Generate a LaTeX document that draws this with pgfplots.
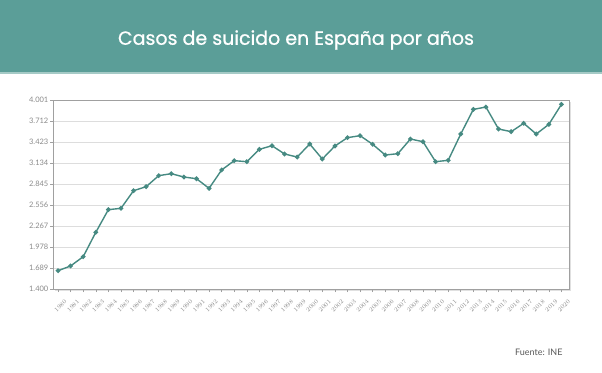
\documentclass[border=0pt]{standalone}
\usepackage{pgfplots}
\pgfplotsset{compat=1.18}
\usepackage{fontspec}
\setmainfont{Lato}
\newfontfamily\titlefont{Poppins}[FakeBold=0.8]
\definecolor{header}{HTML}{5B9E98}
\definecolor{linec}{HTML}{468A82}
\definecolor{tickc}{HTML}{8A8A8A}
\definecolor{gridc}{HTML}{DDDDDD}
\definecolor{framec}{HTML}{A0A0A0}
\pgfplotstableread{
year val
1980 1652
1981 1717
1982 1845
1983 2180
1984 2492
1985 2510
1986 2753
1987 2808
1988 2960
1989 2987
1990 2941
1991 2918
1992 2785
1993 3038
1994 3166
1995 3152
1996 3322
1997 3372
1998 3258
1999 3216
2000 3395
2001 3189
2002 3368
2003 3483
2004 3510
2005 3391
2006 3244
2007 3262
2008 3464
2009 3427
2010 3152
2011 3171
2012 3533
2013 3872
2014 3904
2015 3602
2016 3565
2017 3680
2018 3533
2019 3666
2020 3941
}\datatable
\begin{document}
\begin{tikzpicture}[x=1pt,y=1pt]
\useasboundingbox (0,0) rectangle (602,372);
\fill[white] (0,0) rectangle (602,372);
\fill[header] (0,299) rectangle (602,372);
\fill[header!55!white] (0,298) rectangle (602,300);
\node[text=white, font=\titlefont\fontsize{19}{21}\selectfont] at (296,332) {Casos de suicido en España por años};
\fill[black!12] (55,81) rectangle (571,270);
\begin{axis}[
  at={(53pt,83pt)}, anchor=south west,
  scale only axis, width=516pt, height=189pt,
  axis background/.style={fill=white},
  xmin=1979.6, xmax=2020.6,
  ymin=1400, ymax=4001,
  xtick={1980,...,2020},
  xticklabel style={anchor=center, xshift=2.5pt, yshift=-14pt, rotate=45, font=\fontsize{6.5}{7}\selectfont, text=tickc, inner sep=0pt},
  xticklabel={\pgfmathprintnumber[/pgf/number format/set thousands separator={}]{\tick}},
  ytick={1400,1689,1978,2267,2556,2845,3134,3423,3712,4001},
  yticklabels={1.400,1.689,1.978,2.267,2.556,2.845,3.134,3.423,3.712,4.001},
  yticklabel style={font=\fontsize{7.5}{8}\selectfont, text=tickc, inner sep=1.5pt},
  tick align=outside,
  major tick length=3pt,
  tick style={framec, line width=0.5pt},
  xtick pos=bottom, ytick pos=left,
  ymajorgrids, grid style={gridc, line width=0.6pt},
  axis line style={framec, line width=0.8pt},
  clip=false,
]
\addplot[linec, line width=1.4pt, mark=*, mark size=1.6pt, mark options={fill=linec, draw=linec}] table[x=year, y=val] {\datatable};
\end{axis}
\node[text=black!65, font=\fontsize{9}{10}\selectfont, anchor=east] at (566,20) {Fuente: INE};
\end{tikzpicture}
\end{document}
